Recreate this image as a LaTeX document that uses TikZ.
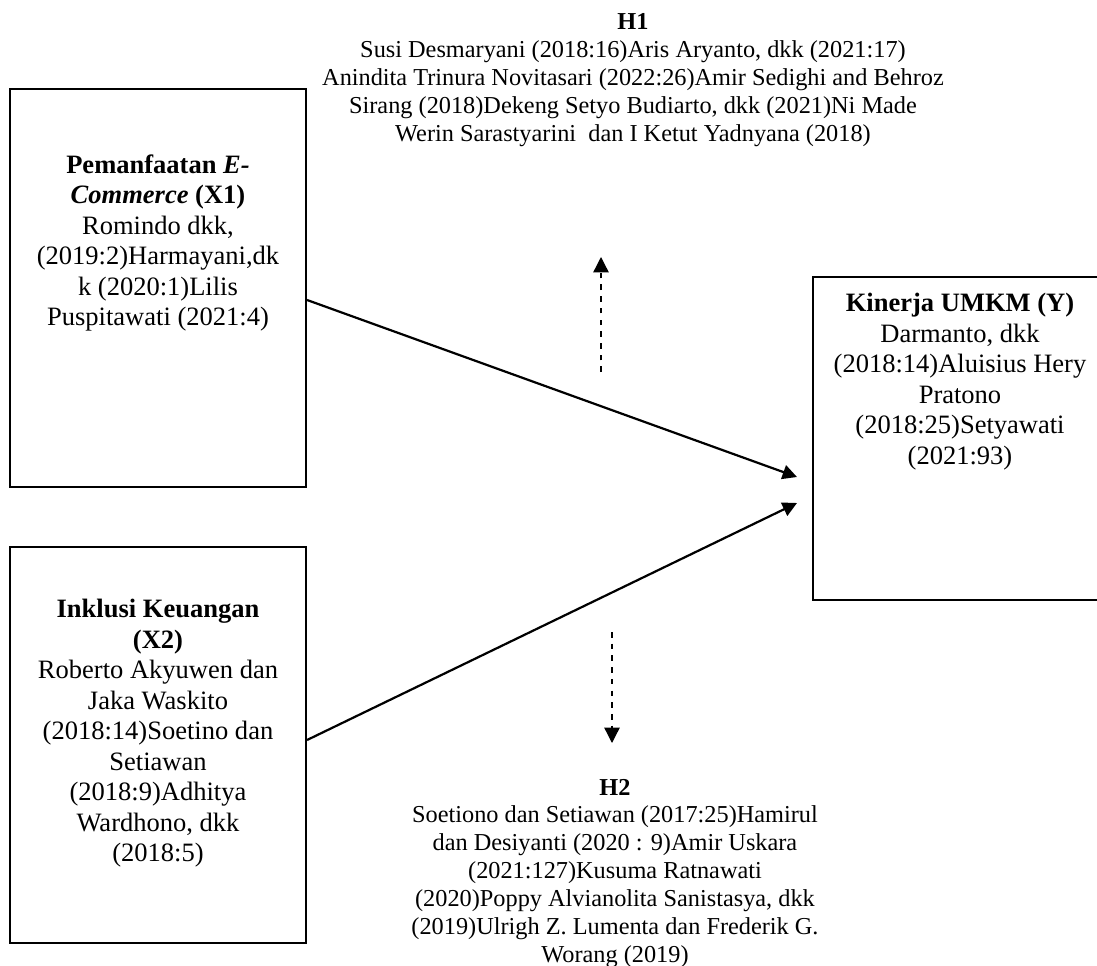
\documentclass[tikz,border=0pt]{standalone}
\usepackage{fontspec}
\setmainfont{Liberation Serif}
\usetikzlibrary{arrows.meta}
\begin{document}
\begin{tikzpicture}[x=0.4525pt,y=-0.4525pt,
  boxnode/.style={draw, line width=1pt, minimum width=133.9pt, inner sep=0pt},
  boxtext/.style={align=center, inner sep=0pt, anchor=north, font=\fontsize{12}{13.8}\selectfont},
  htext/.style={align=center, inner sep=0pt, anchor=north, font=\fontsize{11}{12.65}\selectfont},
  solidarrow/.style={line width=1pt, -{Triangle[length=6.5pt,width=6.5pt]}},
  dasharrow/.style={line width=0.6pt, dash pattern=on 2.5pt off 2.8pt, -{Triangle[length=7pt,width=7pt]}},
]
\useasboundingbox (0,0) rectangle (1097,966);
\clip (0,0) rectangle (1097,966);
% boxes
\node[boxnode, minimum height=180.1pt] (x1) at (158,288) {};
\node[boxnode, minimum height=179.2pt] (x2) at (158,745) {};
\node[boxnode, minimum width=133.0pt, minimum height=146.2pt] (y) at (960,438.5) {};
% box texts
\node[boxtext] (x1t) at (158,154) {\textbf{Pemanfaatan \textit{E-}}\\
\textbf{\textit{Commerce} (X1)}\\
Romindo dkk,\\
(2019:2)Harmayani,dk\\
k (2020:1)Lilis\\
Puspitawati (2021:4)};
\node[boxtext] (x2t) at (158,599) {\textbf{Inklusi Keuangan}\\
\textbf{(X2)}\\
Roberto Akyuwen dan\\
Jaka Waskito\\
(2018:14)Soetino dan\\
Setiawan\\
(2018:9)Adhitya\\
Wardhono, dkk\\
(2018:5)};
\node[boxtext] (yt) at (960,293) {\textbf{Kinerja UMKM (Y)}\\
Darmanto, dkk\\
(2018:14)Aluisius Hery\\
Pratono\\
(2018:25)Setyawati\\
(2021:93)};
% hypothesis texts
\node[htext] (h1) at (633,13.5) {\textbf{H1}\\
Susi Desmaryani (2018:16)Aris Aryanto, dkk (2021:17)\\
Anindita Trinura Novitasari (2022:26)Amir Sedighi and Behroz\\
Sirang (2018)Dekeng Setyo Budiarto, dkk (2021)Ni Made\\
Werin Sarastyarini\ \ dan I Ketut Yadnyana (2018)};
\node[htext] (h2) at (615,778.5) {\textbf{H2}\\
Soetiono dan Setiawan (2017:25)Hamirul\\
dan Desiyanti (2020 : 9)Amir Uskara\\
(2021:127)Kusuma Ratnawati\\
(2020)Poppy Alvianolita Sanistasya, dkk\\
(2019)Ulrigh Z. Lumenta dan Frederik G.\\
Worang (2019)};
% connector end points
\coordinate (e1) at (797,477);
\coordinate (e2) at (797,503);
\coordinate (u1) at (601,372);
\coordinate (u2) at (601,257);
\coordinate (d1) at (612,632);
\coordinate (d2) at (612,743);
% connectors
\draw[solidarrow] ([yshift=-5.43pt]x1.east) -- (e1);
\draw[solidarrow] ([yshift=2.26pt]x2.east) -- (e2);
\draw[dasharrow] (u1) -- (u2);
\draw[dasharrow] (d1) -- (d2);
\end{tikzpicture}
\end{document}
